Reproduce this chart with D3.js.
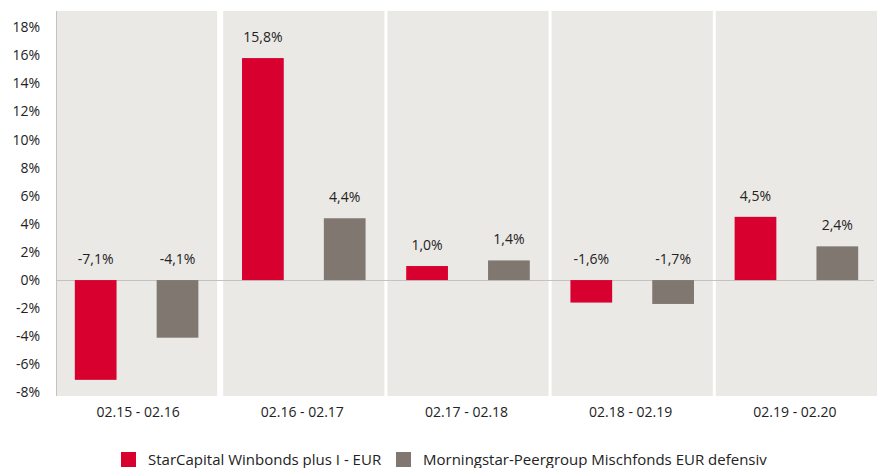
<!DOCTYPE html>
<html>
<head>
<meta charset="utf-8">
<script src="https://cdn.jsdelivr.net/npm/d3@7"></script>
<style>
  body { margin: 0; background: #fff; }
  text { font-family: "Open Sans", "Noto Sans", sans-serif; fill: #222; }
</style>
</head>
<body>
<svg width="885" height="468"></svg>
<script>
const periods = ["02.15 - 02.16", "02.16 - 02.17", "02.17 - 02.18", "02.18 - 02.19", "02.19 - 02.20"];
const seriesNames = ["StarCapital Winbonds plus I - EUR", "Morningstar-Peergroup Mischfonds EUR defensiv"];
const fundValues = [-7.1, 15.8, 1.0, -1.6, 4.5];
const peerValues = [-4.1, 4.4, 1.4, -1.7, 2.4];
const yTicks = [-8, -6, -4, -2, 0, 2, 4, 6, 8, 10, 12, 14, 16, 18];
const colors = ["#d7002f", "#7f7770"];

const svg = d3.select("svg");
const margin = { top: 11, right: 8, bottom: 72, left: 56 };
const width = +svg.attr("width");
const height = +svg.attr("height");
const innerWidth = width - margin.left - margin.right;
const innerHeight = height - margin.top - margin.bottom;

const g = svg.append("g").attr("transform", `translate(${margin.left},${margin.top})`);

const x0 = d3.scaleBand().domain(periods).range([0, innerWidth]);
const x1 = d3.scaleBand().domain([0, 1]).range([0, x0.bandwidth() - 3])
  .paddingInner(0.49).paddingOuter(0.23);
const y = d3.scaleLinear().domain([-8.25, 19.15]).range([innerHeight, 0]);

// panels
g.selectAll("rect.panel")
  .data(periods)
  .enter()
  .append("rect")
  .attr("class", "panel")
  .attr("x", (d) => x0(d) + (d === periods[0] ? 0 : 3))
  .attr("y", 0)
  .attr("width", (d) => x0.bandwidth() - 3)
  .attr("height", innerHeight)
  .attr("fill", "#ebe9e5");

// left axis line
g.append("line")
  .attr("x1", 0.5).attr("x2", 0.5)
  .attr("y1", 0).attr("y2", innerHeight)
  .attr("stroke", "#c4c2bf");

// zero line
g.append("line")
  .attr("x1", 0).attr("x2", innerWidth - 3)
  .attr("y1", Math.round(y(0)) + 0.5).attr("y2", Math.round(y(0)) + 0.5)
  .attr("stroke", "#c4c2bf");

// y axis
const yAxis = d3.axisLeft(y).tickValues(yTicks).tickSize(0).tickPadding(16)
  .tickFormat((d) => d + "%");
g.append("g").call(yAxis)
  .call((a) => a.select(".domain").remove())
  .selectAll("text")
  .attr("font-size", 14)
  .attr("fill", "#222");

const rows = periods.map((p, i) => ({ period: p, values: [fundValues[i], peerValues[i]] }));

const groups = g.selectAll("g.period")
  .data(rows)
  .enter()
  .append("g")
  .attr("class", "period")
  .attr("transform", (d, i) => `translate(${x0(d.period) + (i === 0 ? 0 : 3)},0)`);

groups.selectAll("rect.bar")
  .data((d) => d.values.map((v, k) => ({ v, k })))
  .enter()
  .append("rect")
  .attr("class", "bar")
  .attr("x", (d) => x1(d.k))
  .attr("width", x1.bandwidth())
  .attr("y", (d) => y(Math.max(0, d.v)))
  .attr("height", (d) => Math.abs(y(d.v) - y(0)))
  .attr("fill", (d) => colors[d.k]);

groups.selectAll("text.val")
  .data((d) => d.values.map((v, k) => ({ v, k })))
  .enter()
  .append("text")
  .attr("class", "val")
  .attr("x", (d) => x1(d.k) + x1.bandwidth() / 2)
  .attr("y", (d) => y(Math.max(0, d.v)) - 16)
  .attr("text-anchor", "middle")
  .attr("font-size", 14)
  .text((d) => d.v.toFixed(1).replace(".", ",") + "%");

// x labels
g.selectAll("text.xlab")
  .data(periods)
  .enter()
  .append("text")
  .attr("class", "xlab")
  .attr("x", (d) => x0(d) + x0.bandwidth() / 2)
  .attr("y", innerHeight + 21)
  .attr("text-anchor", "middle")
  .attr("font-size", 14)
  .text((d) => d);

// legend
const legend = svg.append("g").attr("transform", "translate(121,452)");
const legendX = [0, 275];
seriesNames.forEach((name, i) => {
  const lg = legend.append("g").attr("transform", `translate(${legendX[i]},0)`);
  lg.append("rect").attr("width", 15).attr("height", 15).attr("fill", colors[i]);
  lg.append("text").attr("x", 27).attr("y", 13).attr("font-size", 15).text(name);
});
</script>
</body>
</html>
